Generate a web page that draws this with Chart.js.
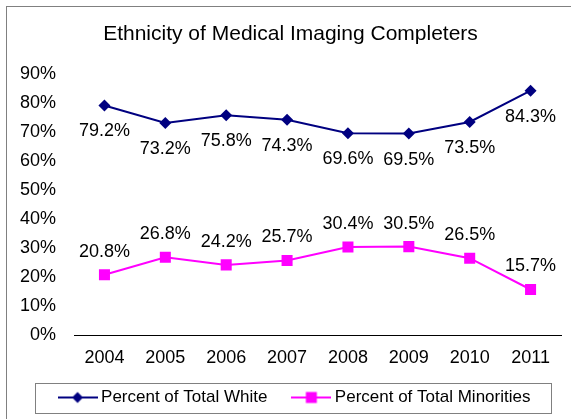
<!DOCTYPE html>
<html>
<head>
<meta charset="utf-8">
<script src="https://cdn.jsdelivr.net/npm/chart.js@4"></script>
<style>
  html, body { margin: 0; padding: 0; background: #fff; }
  #wrap { width: 571px; height: 419px; }
</style>
</head>
<body>
<div id="wrap"><canvas id="myChart" width="571" height="419"></canvas></div>
<script>
const years = ['2004', '2005', '2006', '2007', '2008', '2009', '2010', '2011'];
const white = [79.2, 73.2, 75.8, 74.3, 69.6, 69.5, 73.5, 84.3];
const minorities = [20.8, 26.8, 24.2, 25.7, 30.4, 30.5, 26.5, 15.7];

const navy = '#000080';
const magenta = '#FF00FF';
const fontFamily = '"Liberation Sans", Arial, sans-serif';

// little legend swatches: line with the marker in the middle
function swatch(color, shape) {
    const c = document.createElement('canvas');
    c.width = 40;
    c.height = 14;
    const g = c.getContext('2d');
    g.strokeStyle = color;
    g.lineWidth = 2;
    g.beginPath();
    g.moveTo(0, 7);
    g.lineTo(40, 7);
    g.stroke();
    g.fillStyle = color;
    if (shape === 'diamond') {
        g.beginPath();
        g.moveTo(20, 1.5);
        g.lineTo(25.5, 7);
        g.lineTo(20, 12.5);
        g.lineTo(14.5, 7);
        g.closePath();
        g.fill();
    } else {
        g.fillRect(14.5, 1.5, 11, 11);
    }
    return c;
}
const whiteSwatch = swatch(navy, 'diamond');
const minSwatch = swatch(magenta, 'square');

const frameAndLabels = {
    id: 'frameAndLabels',
    afterLayout(chart) {
        // legend sits a bit right of centre and tucked up in the original
        const lg = chart.legend;
        lg.left += 6;
        lg.right += 6;
        lg.top -= 10;
        lg.bottom -= 10;
    },
    beforeDraw(chart) {
        const ctx = chart.ctx;
        ctx.save();
        ctx.strokeStyle = '#808080';
        ctx.lineWidth = 1;
        ctx.strokeRect(6.5, 6.5, 700, 700);
        ctx.restore();
    },
    afterDatasetsDraw(chart) {
        const ctx = chart.ctx;
        ctx.save();
        ctx.font = '18px ' + fontFamily;
        ctx.fillStyle = '#000';
        ctx.textAlign = 'center';
        ctx.textBaseline = 'middle';
        chart.data.datasets.forEach((ds, di) => {
            const meta = chart.getDatasetMeta(di);
            const dy = di === 0 ? 26 : -23;
            meta.data.forEach((pt, i) => {
                ctx.fillText(ds.data[i].toFixed(1) + '%', pt.x, pt.y + dy);
            });
        });
        ctx.restore();
    },
    afterDraw(chart) {
        const boxes = chart.legend.legendHitBoxes;
        if (!boxes || !boxes.length) return;
        const first = boxes[0];
        const last = boxes[boxes.length - 1];
        const cy = first.top + first.height / 2;
        const ctx = chart.ctx;
        ctx.save();
        ctx.strokeStyle = '#808080';
        ctx.lineWidth = 1;
        const x0 = Math.round(first.left - 28) + 0.5;
        const x1 = Math.round(last.left + last.width + 21) + 0.5;
        const y0 = Math.round(cy - 15) + 0.5;
        const y1 = Math.round(cy + 15) + 0.5;
        ctx.strokeRect(x0, y0, x1 - x0, y1 - y0);
        ctx.restore();
    }
};

var ctx = document.getElementById('myChart').getContext('2d');

var myLineChart = new Chart(ctx, {
    type: 'line',
    data: {
        labels: years,
        datasets: [{
                label: 'Percent of Total White',
                data: white,
                borderColor: navy,
                backgroundColor: navy,
                borderWidth: 2,
                pointStyle: 'rectRot',
                pointRadius: 6,
                pointBorderWidth: 0,
                pointBackgroundColor: navy,
                tension: 0
            },
            {
                label: 'Percent of Total Minorities',
                data: minorities,
                borderColor: magenta,
                backgroundColor: magenta,
                borderWidth: 2,
                pointStyle: 'rect',
                pointRadius: 7.8,
                pointBorderWidth: 0,
                pointBackgroundColor: magenta,
                tension: 0
            }
        ]
    },
    options: {
        responsive: false,
        animation: false,
        layout: {
            padding: { left: 20, right: 10, top: 0, bottom: 3 }
        },
        scales: {
            x: {
                offset: true,
                grid: { display: false, drawTicks: false },
                border: { display: true, color: '#000', width: 1 },
                ticks: {
                    color: '#000',
                    padding: 12,
                    font: { family: fontFamily, size: 18 }
                },
                afterFit: scale => { scale.height = 35; }
            },
            y: {
                min: 0,
                max: 90,
                grid: { display: false, drawTicks: false },
                border: { display: false },
                ticks: {
                    stepSize: 10,
                    color: '#000',
                    padding: 18,
                    font: { family: fontFamily, size: 18 },
                    callback: v => v + '%'
                },
                afterFit: scale => { scale.width -= 18; }
            }
        },
        plugins: {
            title: {
                display: true,
                text: 'Ethnicity of Medical Imaging Completers',
                color: '#000',
                font: { family: fontFamily, size: 21, weight: 'normal' },
                padding: { top: 22, bottom: 27 }
            },
            legend: {
                position: 'bottom',
                maxHeight: 46,
                labels: {
                    color: '#000',
                    font: { family: fontFamily, size: 17 },
                    usePointStyle: true,
                    pointStyleWidth: 30,
                    padding: 29,
                    generateLabels: chart => chart.data.datasets.map((ds, i) => ({
                        text: ds.label,
                        pointStyle: i === 0 ? whiteSwatch : minSwatch,
                        fillStyle: ds.borderColor,
                        strokeStyle: ds.borderColor,
                        lineWidth: 0,
                        hidden: false,
                        datasetIndex: i
                    }))
                }
            },
            tooltip: { enabled: false }
        }
    },
    plugins: [frameAndLabels]
});
</script>
</body>
</html>
